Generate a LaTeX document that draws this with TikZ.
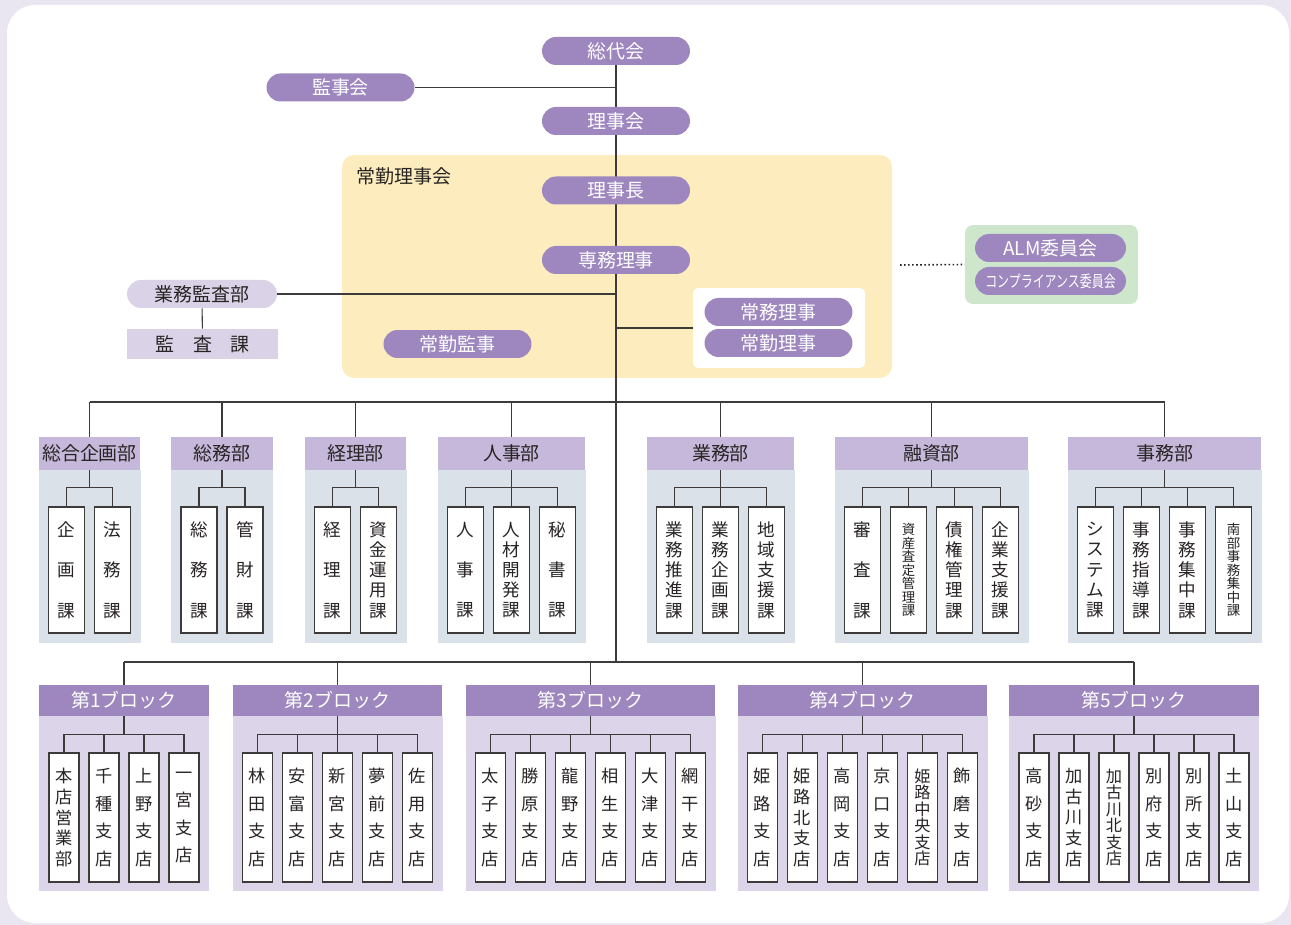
\documentclass[tikz,border=0pt]{standalone}
\usepackage{fontspec}
\setmainfont{Noto Sans CJK JP}
\usepackage{graphicx}
\usepackage{tikz}
\usetikzlibrary{positioning}
\pgfdeclarelayer{base}
\pgfdeclarelayer{back}
\pgfdeclarelayer{lines}
\pgfsetlayers{base,back,lines,main}

\definecolor{pur}{RGB}{157,135,190}
\definecolor{lav}{RGB}{218,211,232}
\definecolor{hdr}{RGB}{197,184,218}
\definecolor{dbody}{RGB}{218,225,233}
\definecolor{bbody}{RGB}{220,213,233}
\definecolor{yel}{RGB}{253,237,190}
\definecolor{grn}{RGB}{205,230,204}
\definecolor{bgl}{RGB}{233,230,242}
\definecolor{ink}{RGB}{40,36,36}

\newcommand\tightlines{\lineskiplimit=-10pt\relax}

\tikzset{
	pill/.style={fill=pur, text=white, rounded corners=2.8mm, minimum width=2.96cm, minimum height=5.6mm, inner sep=0pt, font=\fontsize{10.8}{12}\selectfont},
	lpill/.style={pill, fill=lav, text=ink},
	dhead/.style={fill=hdr, text=ink, minimum height=6.6mm, inner sep=0pt, font=\fontsize{10.8}{12}\selectfont},
	bhead/.style={fill=pur, text=white, minimum height=6.2mm, inner sep=0pt, font=\fontsize{10.8}{12}\selectfont},
	secbox/.style={draw=ink!90, line width=0.6pt, fill=white, text=ink, minimum width=7.2mm, minimum height=25.2mm, inner sep=0pt, align=center},
	brbox/.style={secbox, minimum width=6mm, minimum height=25.8mm},
	conn/.style={draw=ink!90, line width=0.6pt},
}

\begin{document}
\begin{tikzpicture}[x=0.02cm, y=-0.02cm]
	\useasboundingbox (0,0) rectangle (1291,925);
	\begin{pgfonlayer}{base}
		\fill[bgl] (0,0) rectangle (1291,925);
		\fill[white, rounded corners=0.56cm] (7,5) rectangle (1289,923);
	\end{pgfonlayer}

	% board and directors
	\node[pill] (sodai) at (616,51) {総代会};
	\node[pill] (kanjikai) at (340.5,87.5) {監事会};
	\node[pill] (rijikai) at (616,121) {理事会};
	\begin{pgfonlayer}{back}
		\node[fill=yel, rounded corners=2.4mm, minimum width=11cm, minimum height=4.46cm] (jokin) at (617,266.5) {};
		\node[fill=white, rounded corners=1mm, minimum width=3.44cm, minimum height=1.6cm] (dirbox) at (779,328) {};
		\node[fill=grn, rounded corners=1.6mm, minimum width=3.46cm, minimum height=1.58cm] (iinkai) at (1051.5,264.5) {};
	\end{pgfonlayer}
	\node[anchor=west, text=ink, inner sep=0pt, font=\fontsize{10.8}{12}\selectfont] (jokinlbl) at (356,176) {常勤理事会};
	\node[pill] (rijicho) at (616,190.5) {理事長};
	\node[pill] (senmu) at (616,260) {専務理事};
	\node[lpill, minimum width=3cm] (gyokan) at (202,294) {業務監査部};
	\node[fill=lav, text=ink, minimum width=3.02cm, minimum height=6mm, inner sep=0pt, font=\fontsize{10.8}{12}\selectfont] (kansaka) at (202.5,344) {監　査　課};
	\node[pill] (jkanji) at (457.5,344) {常勤監事};
	\node[pill] (jomu) at (778.5,312) {常務理事};
	\node[pill] (jriji) at (778.5,343) {常勤理事};
	\node[pill, minimum width=3.02cm] (alm) at (1050.5,248) {ALM委員会};
	\node[pill, minimum width=3.02cm] (comp) at (1050.5,281) {\scalebox{0.74}[1]{\fontsize{9.2}{10}\selectfont コンプライアンス委員会}};

	\coordinate (dbus) at (616,402);
	\coordinate (bbus) at (616,662);
	\coordinate (dotend) at (900,265);

	\begin{pgfonlayer}{lines}
		\draw[conn] (sodai.south) -- (bbus);
		\draw[conn] (kanjikai.east) -- (kanjikai.east -| sodai);
		\draw[conn] (gyokan.east) -- (gyokan.east -| sodai);
		\draw[conn] (gyokan) -- (kansaka);
		\draw[conn] (dirbox.west -| sodai) -- (dirbox.west);
		\draw[ink, line width=0.9pt, dash pattern=on 0.9pt off 1.4pt] (dotend) -- (iinkai.west);
	\end{pgfonlayer}

	% departments
	\foreach \cx/\n/\dname/\secs [count=\j] in {
		89.5/2/総合企画部/{3/企\\画\\課,3/法\\務\\課},
		222/2/総務部/{3/総\\務\\課,3/管\\財\\課},
		355.5/2/経理部/{3/経\\理\\課,5/資\\金\\運\\用\\課},
		511.5/3/人事部/{3/人\\事\\課,5/人\\材\\開\\発\\課,3/秘\\書\\課},
		720.5/3/業務部/{5/業\\務\\推\\進\\課,5/業\\務\\企\\画\\課,5/地\\域\\支\\援\\課},
		931.5/4/融資部/{3/審\\査\\課,7/資\\産\\査\\定\\管\\理\\課,5/債\\権\\管\\理\\課,5/企\\業\\支\\援\\課},
		1164.5/4/事務部/{5/シ\\ス\\テ\\ム\\課,5/事\\務\\指\\導\\課,5/事\\務\\集\\中\\課,7/南\\部\\事\\務\\集\\中\\課}}{
		\pgfmathsetmacro\hw{(\n*46+10)/2}
		\node[dhead, minimum width=\hw*0.04cm] (dh\j) at (\cx,453.5) {\dname};
		\begin{pgfonlayer}{back}
			\fill[dbody] (\cx-\hw,470) rectangle (\cx+\hw,643);
		\end{pgfonlayer}
		\begin{pgfonlayer}{lines}
			\draw[conn] (dh\j.north) -- (dh\j.north |- dbus);
		\end{pgfonlayer}
		\foreach \k/\t [count=\i] in \secs {
			\pgfmathsetmacro\sk{45.92/(\k-1)}
			\pgfmathsetmacro\fs{min(10,1.0*\sk)}
			\node[secbox, font={\fontsize{\fs}{\sk}\selectfont\tightlines}] (s\j-\i) at ({\cx+(\i-(\n+1)/2)*46},570) {\t};
			\begin{pgfonlayer}{lines}
				\draw[conn] (s\j-\i.north) -- ++(0,-19) -| (dh\j.south);
			\end{pgfonlayer}
		}
	}
	\begin{pgfonlayer}{lines}
		\draw[conn] (dh1.north |- dbus) -- (dh7.north |- dbus);
	\end{pgfonlayer}

	% branch blocks
	\foreach \cx/\n/\bname/\brs [count=\j] in {
		124/4/第1ブロック/{5/本\\店\\営\\業\\部,4/千\\種\\支\\店,4/上\\野\\支\\店,4/一\\宮\\支\\店},
		337.5/5/第2ブロック/{4/林\\田\\支\\店,4/安\\富\\支\\店,4/新\\宮\\支\\店,4/夢\\前\\支\\店,4/佐\\用\\支\\店},
		590.5/6/第3ブロック/{4/太\\子\\支\\店,4/勝\\原\\支\\店,4/龍\\野\\支\\店,4/相\\生\\支\\店,4/大\\津\\支\\店,4/網\\干\\支\\店},
		862.5/6/第4ブロック/{4/姫\\路\\支\\店,5/姫\\路\\北\\支\\店,4/高\\岡\\支\\店,4/京\\口\\支\\店,6/姫\\路\\中\\央\\支\\店,4/飾\\磨\\支\\店},
		1134/6/第5ブロック/{4/高\\砂\\支\\店,5/加\\古\\川\\支\\店,6/加\\古\\川\\北\\支\\店,4/別\\府\\支\\店,4/別\\所\\支\\店,4/土\\山\\支\\店}}{
		\pgfmathsetmacro\hw{(\n*40+10)/2}
		\node[bhead, minimum width=\hw*0.04cm] (bh\j) at (\cx,700.5) {\bname};
		\begin{pgfonlayer}{back}
			\fill[bbody] (\cx-\hw,716) rectangle (\cx+\hw,891);
		\end{pgfonlayer}
		\begin{pgfonlayer}{lines}
			\draw[conn] (bh\j.north) -- (bh\j.north |- bbus);
		\end{pgfonlayer}
		\foreach \k/\t [count=\i] in \brs {
			\pgfmathsetmacro\sk{47.05/(\k-1)}
			\pgfmathsetmacro\fs{min(9.8,0.98*\sk)}
			\node[brbox, font={\fontsize{\fs}{\sk}\selectfont\tightlines}] (b\j-\i) at ({\cx+(\i-(\n+1)/2)*40},817.5) {\t};
			\begin{pgfonlayer}{lines}
				\draw[conn] (b\j-\i.north) -- ++(0,-18) -| (bh\j.south);
			\end{pgfonlayer}
		}
	}
	\begin{pgfonlayer}{lines}
		\draw[conn] (bh1.north |- bbus) -- (bh5.north |- bbus);
	\end{pgfonlayer}
\end{tikzpicture}
\end{document}
